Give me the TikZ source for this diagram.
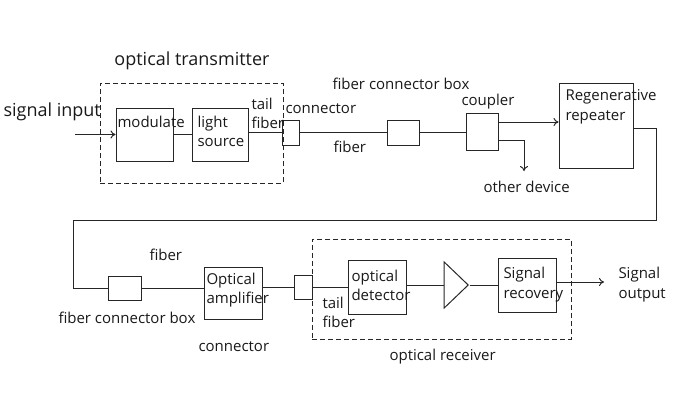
\documentclass[tikz,border=0pt]{standalone}
\usepackage{fontspec}
\setmainfont{Open Sans}
\usetikzlibrary{shapes.geometric,arrows.meta}
\begin{document}
\begin{tikzpicture}[x=1pt,y=-1pt,
  line width=1pt,
  blk/.style={draw=black!85,rectangle,inner sep=0pt},
  dbox/.style={draw=black!85,dash pattern=on 5pt off 3pt,rectangle,inner sep=0pt},
  ln/.style={draw=black!85},
  lbl/.style={anchor=west,inner sep=0pt,font=\fontsize{15}{19.5}\selectfont,align=left,text=black!90},
  big/.style={inner sep=0pt,font=\fontsize{18}{22}\selectfont,text=black!90},
  arr/.style={ln,-{To[length=5pt,width=8pt]}}
]
\useasboundingbox (0,0) rectangle (700,412);
% dashed groups
\node[dbox,minimum width=183pt,minimum height=100pt] (tx) at (191.5,133) {};
\node[dbox,minimum width=259pt,minimum height=100pt] (rx) at (441.5,289) {};
% blocks
\node[blk,minimum width=57pt,minimum height=53pt] (mod) at (144.5,134.5) {};
\node[blk,minimum width=56pt,minimum height=53pt] (ls) at (220,134.5) {};
\node[blk,minimum width=17pt,minimum height=25pt] (c1) at (290.5,132.5) {};
\node[blk,minimum width=32pt,minimum height=25pt] (fcb1) at (403,132.5) {};
\node[blk,minimum width=32pt,minimum height=37pt] (coup) at (482,131.5) {};
\node[blk,minimum width=74pt,minimum height=85pt] (rep) at (596,125.5) {};
\node[blk,minimum width=33pt,minimum height=24pt] (fcb2) at (124.5,288) {};
\node[blk,minimum width=58pt,minimum height=52pt] (amp) at (233,293) {};
\node[blk,minimum width=18pt,minimum height=24pt] (c2) at (303,287) {};
\node[blk,minimum width=58pt,minimum height=54pt] (det) at (377,287) {};
\node[draw=black!85,isosceles triangle,isosceles triangle stretches,inner sep=0pt,
      minimum width=46pt,minimum height=24pt] (tri) at (454,285) {};
\node[blk,minimum width=58pt,minimum height=54pt] (rec) at (527,285) {};
% free ends
\coordinate (in) at (75,134.5);
\coordinate (od) at (524,171);
\coordinate (out) at (604,282);
\coordinate (r1) at (656,128);
\coordinate (r2) at (656,220);
\coordinate (r3) at (73,220);
\coordinate (r4) at (73,288);
% connectors
\draw[arr] (in) -- (mod.west);
\draw[ln] (mod.east) -- (ls.west);
\draw[ln] (ls.east |- c1.west) -- (c1.west);
\draw[ln] (c1.east) -- (fcb1.west);
\draw[ln] (fcb1.east) -- (fcb1.east -| coup.west);
\draw[arr] ([yshift=9.5pt]coup.east) -- ([yshift=9.5pt]coup.east -| rep.west);
\draw[arr] ([yshift=-8.5pt]coup.east) -| (od);
\draw[ln] ([yshift=-2.5pt]rep.east) -- (r1) -- (r2) -- (r3) -- (r4) -- (fcb2.west);
\draw[ln] (fcb2.east) -- (fcb2.east -| amp.west);
\draw[ln] (amp.east |- c2.west) -- (c2.west);
\draw[ln] (c2.east) -- (c2.east -| det.west);
\draw[ln] (det.east |- tri.west) -- (tri.west);
\draw[ln] (tri.apex) -- (tri.apex -| rec.west);
\draw[arr] ([yshift=3pt]rec.east) -- (out);
% labels
\node[big,anchor=center] (t1) at (192,61) {optical transmitter};
\node[big,anchor=west] (t2) at (3,112) {signal input};
\node[lbl] (t3) at (117,122) {modulate};
\node[lbl] (t4) at (197,131.5) {light\\source};
\node[lbl] (t5) at (251,113.5) {tail\\fiber};
\node[lbl] (t6) at (285,109) {connector};
\node[lbl] (t7) at (332,84) {fiber connector box};
\node[lbl] (t8) at (333,147) {fiber};
\node[lbl] (t9) at (461,102) {coupler};
\node[lbl] (t10) at (483,187) {other device};
\node[lbl] (t11) at (565,107) {Regenerative\\repeater};
\node[lbl] (t12) at (149,255) {fiber};
\node[lbl] (t13) at (58,318) {fiber connector box};
\node[lbl] (t14) at (206,290) {Optical\\amplifier};
\node[lbl] (t15) at (198,347) {connector};
\node[lbl] (t16) at (322,312.5) {tail\\fiber};
\node[lbl] (t17) at (351,285.5) {optical\\detector};
\node[lbl] (t18) at (503,284.5) {Signal\\recovery};
\node[lbl] (t19) at (618,284.5) {Signal\\output};
\node[lbl] (t20) at (389,357) {optical receiver};
\end{tikzpicture}
\end{document}
